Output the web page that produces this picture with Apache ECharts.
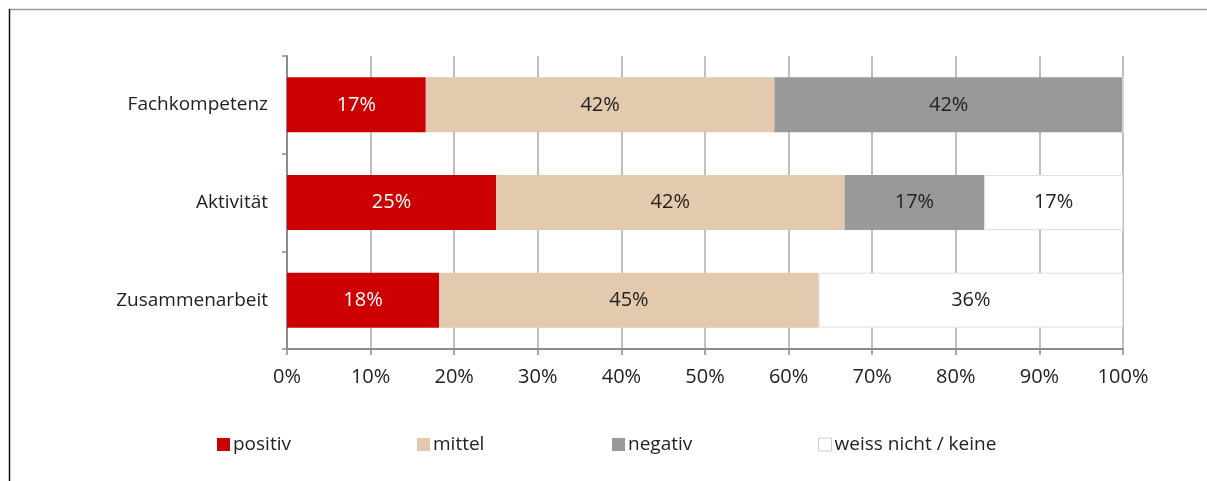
<!DOCTYPE html>
<html>
<head>
<meta charset="utf-8">
<script src="https://cdn.jsdelivr.net/npm/echarts@6/dist/echarts.min.js"></script>
<style>
  html, body { margin: 0; padding: 0; background: #fff; }
  #chart { width: 1207px; height: 481px; }
</style>
</head>
<body>
<div id="chart"></div>
<script>
// Survey ratings per aspect, shares in percent
const categories = ['Fachkompetenz', 'Aktivität', 'Zusammenarbeit'];
const seriesNames = ['positiv', 'mittel', 'negativ', 'weiss nicht / keine'];
const positiv = [16.6, 25.0, 18.2];
const mittel = [41.7, 41.7, 45.4];
const negativ = [41.7, 16.7, 0];
const weissNicht = [0, 16.6, 36.4];
const xTicks = [0, 10, 20, 30, 40, 50, 60, 70, 80, 90, 100];

const FONT = '"Open Sans", "Noto Sans", sans-serif';
const TEXT = '#222222';
const colors = ['#CC0000', '#E3CAAE', '#999999', '#FFFFFF'];
const labelColors = ['#FFFFFF', TEXT, TEXT, TEXT];
const values = [positiv, mittel, negativ, weissNicht];

const chart = echarts.init(document.getElementById('chart'), null, { renderer: 'canvas' });

const series = seriesNames.map((name, i) => ({
  name,
  type: 'bar',
  stack: 'total',
  barWidth: 55,
  data: values[i],
  itemStyle: {
    color: colors[i],
    borderColor: i === 3 ? '#E2E2E2' : colors[i],
    borderWidth: i === 3 ? 1 : 0
  },
  label: {
    show: true,
    position: 'inside',
    fontFamily: FONT,
    fontSize: 20,
    color: labelColors[i],
    formatter: p => (p.value > 0 ? Math.round(p.value) + '%' : '')
  },
  emphasis: { disabled: true }
}));

// one legend block per series so each entry sits at its own fixed slot
const legendLefts = [212, 412, 607, 813];
const legends = seriesNames.map((name, i) => ({
  data: [{ name, icon: 'rect', itemStyle: i === 3 ? { color: '#fff', borderColor: '#D0D0D0', borderWidth: 1 } : undefined }],
  left: legendLefts[i],
  top: 430,
  itemWidth: 13,
  itemHeight: 13,
  itemGap: 4,
  selectedMode: false,
  textStyle: { fontFamily: FONT, fontSize: 19, color: TEXT, padding: [0, 0, 0, -2] }
}));

chart.setOption({
  backgroundColor: '#fff',
  animation: false,
  grid: { left: 287, right: 84, top: 56, bottom: 132, containLabel: false },
  legend: legends,
  xAxis: {
    type: 'value',
    min: xTicks[0],
    max: xTicks[xTicks.length - 1],
    interval: xTicks[1] - xTicks[0],
    axisLine: { show: true, lineStyle: { color: '#8C8C8C', width: 2 } },
    axisTick: { show: true, length: 6, lineStyle: { color: '#8C8C8C', width: 1.5 } },
    splitLine: { show: true, lineStyle: { color: '#ABABAB', width: 1.5 } },
    axisLabel: {
      fontFamily: FONT,
      fontSize: 20,
      color: TEXT,
      margin: 18,
      formatter: v => v + '%'
    }
  },
  yAxis: {
    type: 'category',
    inverse: true,
    data: categories,
    axisLine: { show: true, lineStyle: { color: '#8C8C8C', width: 2 } },
    axisTick: { show: true, length: 5, lineStyle: { color: '#8C8C8C', width: 1.5 } },
    axisLabel: { fontFamily: FONT, fontSize: 19, color: TEXT, margin: 19 }
  },
  series,
  graphic: [
    { type: 'line', shape: { x1: 9, y1: 9.5, x2: 1207, y2: 9.5 }, style: { stroke: '#9A9A9A', lineWidth: 1.5 }, silent: true },
    { type: 'line', shape: { x1: 9.5, y1: 9, x2: 9.5, y2: 481 }, style: { stroke: '#111', lineWidth: 1.5 }, silent: true }
  ]
});
</script>
</body>
</html>
